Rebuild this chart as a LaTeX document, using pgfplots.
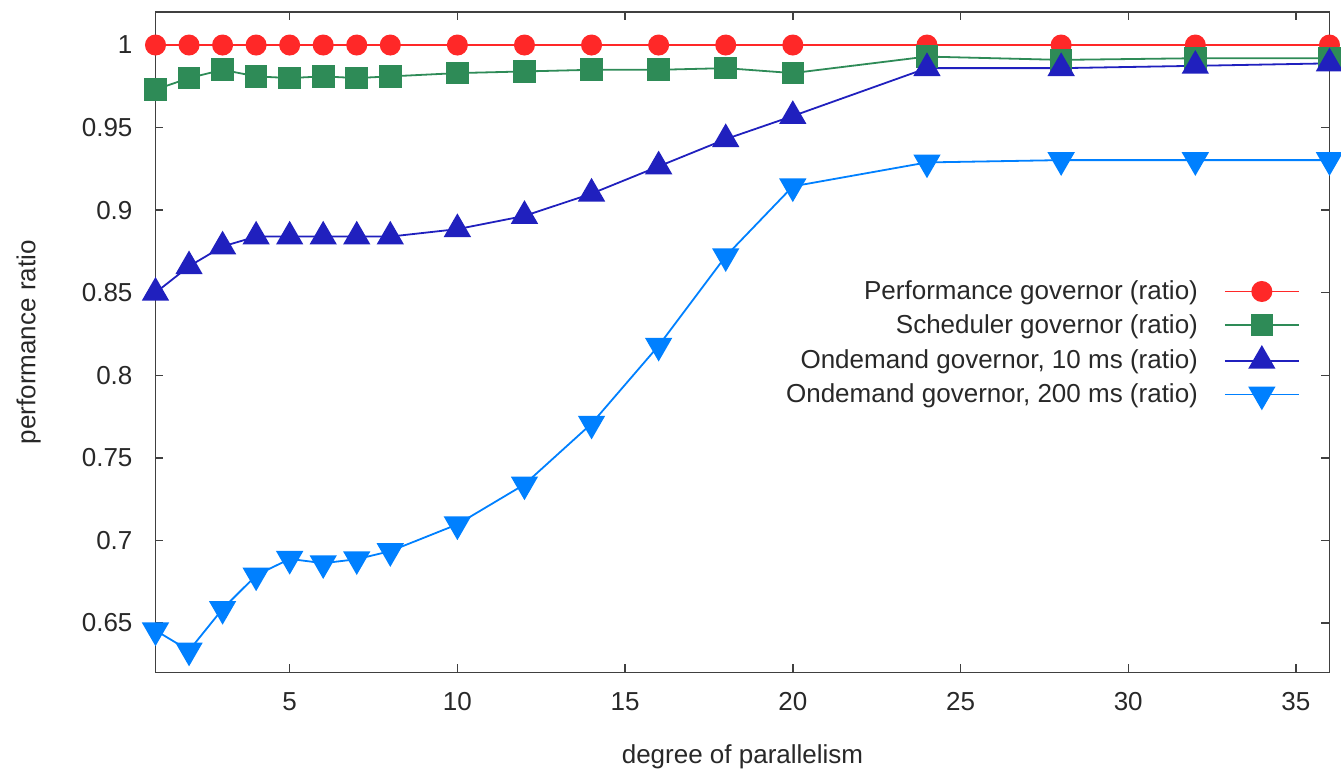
\documentclass[border=0pt]{standalone}
\usepackage{fontspec}
\setmainfont{Liberation Sans}
\usepackage{pgfplots}
\pgfplotsset{compat=1.18}
\definecolor{cred}{RGB}{255,40,40}
\definecolor{cgreen}{RGB}{46,139,87}
\definecolor{cdblue}{RGB}{32,32,190}
\definecolor{clblue}{RGB}{0,128,255}
\definecolor{txt}{RGB}{40,40,40}
\begin{document}
\begin{tikzpicture}
\begin{axis}[
  at={(0pt,0pt)}, anchor=south west,
  scale only axis, width=587pt, height=330.25pt,
  xmin=1, xmax=36, ymin=0.62, ymax=1.02,
  xtick={5,10,15,20,25,30,35},
  ytick={0.65,0.7,0.75,0.8,0.85,0.9,0.95,1},
  tick align=inside, major tick length=4pt,
  axis line style={black!75, line width=0.7pt},
  tick style={black!75, line width=0.7pt},
  axis on top, clip=false,
  /pgf/number format/assume math mode=true,
  /pgf/number format/fixed,
  tick label style={font=\fontsize{13pt}{15pt}\selectfont, text=txt},
  xticklabel shift=6.5pt, yticklabel shift=8pt,
  xlabel={degree of parallelism},
  ylabel={performance ratio},
  every axis x label/.style={at={(axis description cs:0.5,-0.128)}, anchor=center, font=\fontsize{13pt}{15pt}\selectfont, text=txt},
  every axis y label/.style={at={(axis description cs:-0.108,0.5)}, anchor=center, rotate=90, font=\fontsize{13pt}{15pt}\selectfont, text=txt},
  legend plot pos=right,
  legend cell align=right,
  legend style={draw=none, fill=none, inner sep=0pt, at={(0.975,0.5955)}, anchor=north east,
    font=\fontsize{13pt}{15pt}\selectfont, text=txt, row sep=4.9pt, nodes={inner sep=0.5pt}},
  legend image code/.code={
    \path (0pt,0pt);
    \draw[mark repeat=2,mark phase=2] plot coordinates {(12.5pt,0pt) (31pt,0pt) (49.5pt,0pt)};
  },
]
\addplot[cred, line width=0.9pt, mark=*, mark size=4.8pt, mark options={solid, fill=cred, draw=cred}] coordinates {
(1,1) (2,1) (3,1) (4,1) (5,1) (6,1) (7,1) (8,1) (10,1) (12,1) (14,1) (16,1) (18,1) (20,1) (24,1) (28,1) (32,1) (36,1)};
\addlegendentry{Performance governor (ratio)}
\addplot[cgreen, line width=0.9pt, mark=square*, mark size=5.2pt, mark options={solid, fill=cgreen, draw=cgreen}] coordinates {
(1,0.973) (2,0.980) (3,0.985) (4,0.981) (5,0.980) (6,0.981) (7,0.980) (8,0.981) (10,0.983) (12,0.984) (14,0.985) (16,0.985) (18,0.986) (20,0.983) (24,0.993) (28,0.991) (32,0.992) (36,0.992)};
\addlegendentry{Scheduler governor (ratio)}
\addplot[cdblue, line width=0.9pt, mark=triangle*, mark size=7pt, mark options={solid, fill=cdblue, draw=cdblue}] coordinates {
(1,0.850) (2,0.866) (3,0.878) (4,0.884) (5,0.884) (6,0.884) (7,0.884) (8,0.884) (10,0.8885) (12,0.8965) (14,0.910) (16,0.9265) (18,0.943) (20,0.957) (24,0.986) (28,0.986) (32,0.9874) (36,0.9889)};
\addlegendentry{Ondemand governor, 10 ms (ratio)}
\addplot[clblue, line width=0.9pt, mark=triangle*, mark size=7pt, mark options={solid, fill=clblue, draw=clblue, rotate=180}] coordinates {
(1,0.6455) (2,0.6333) (3,0.6585) (4,0.6788) (5,0.6888) (6,0.6862) (7,0.6886) (8,0.6935) (10,0.7097) (12,0.7339) (14,0.7707) (16,0.8179) (18,0.8721) (20,0.9144) (24,0.9289) (28,0.9303) (32,0.9303) (36,0.9303)};
\addlegendentry{Ondemand governor, 200 ms (ratio)}
\end{axis}
\pgfresetboundingbox
\path[use as bounding box] (-77.75pt,-49.75pt) rectangle (592.75pt,336.25pt);
\end{tikzpicture}
\end{document}
